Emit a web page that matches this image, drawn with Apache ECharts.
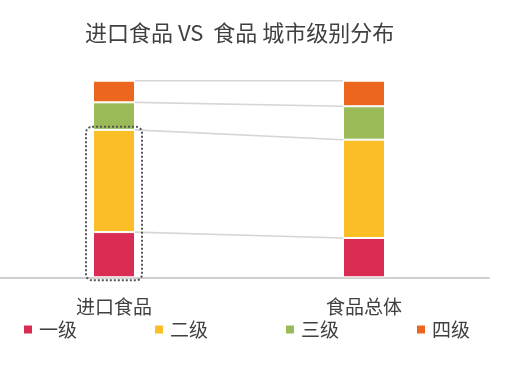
<!DOCTYPE html>
<html>
<head>
<meta charset="utf-8">
<script src="https://cdn.jsdelivr.net/npm/echarts@6/dist/echarts.min.js"></script>
<style>
html,body{margin:0;padding:0;background:#fff;}
#main{width:506px;height:373px;}
</style>
</head>
<body>
<div id="main"></div>
<script>
var titleText = '进口食品 VS  食品 城市级别分布';
var categories = ['进口食品', '食品总体'];
var seriesNames = ['一级', '二级', '三级', '四级'];
var tier1 = [23, 20];
var tier2 = [52, 50];
var tier3 = [14, 17];
var tier4 = [11, 13];
var colors = ['#DA2B52', '#FBBE27', '#9BBB59', '#EC6620'];

var allSeries = [tier1, tier2, tier3, tier4];
function cumTop(catIdx, level) {
  var s = 0;
  for (var i = 0; i <= level; i++) s += allSeries[i][catIdx];
  return s;
}
var connectData = [];
for (var l = 0; l < allSeries.length; l++) {
  connectData.push([0, cumTop(0, l), cumTop(1, l)]);
}
var highlightData = [[0, 0, cumTop(0, 1)]];

var BAR_W = 42;
var half = BAR_W / 2;

var chart = echarts.init(document.getElementById('main'));
var series = seriesNames.map(function (n, i) {
  return {
    name: n,
    type: 'bar',
    stack: 'total',
    barWidth: BAR_W,
    data: allSeries[i],
    itemStyle: { color: colors[i], borderColor: '#fff', borderWidth: 1 },
    emphasis: { disabled: true }
  };
});
series.push({
  type: 'custom',
  name: 'connect',
  silent: true,
  z: 1,
  encode: { x: 0, y: 1 },
  data: connectData,
  renderItem: function (params, api) {
    var p1 = api.coord([0, api.value(1)]);
    var p2 = api.coord([1, api.value(2)]);
    return {
      type: 'line',
      shape: { x1: p1[0] + half, y1: p1[1], x2: p2[0] - half, y2: p2[1] },
      style: { stroke: '#d6d6d6', lineWidth: 1.6 }
    };
  }
});
series.push({
  type: 'custom',
  name: 'highlight',
  silent: true,
  z: 5,
  encode: { x: 0, y: 1 },
  data: highlightData,
  renderItem: function (params, api) {
    var pb = api.coord([api.value(0), api.value(1)]);
    var pt = api.coord([api.value(0), api.value(2)]);
    var x = pb[0] - half - 7, y = pt[1] - 3;
    return {
      type: 'rect',
      shape: { x: x, y: y, width: BAR_W + 14, height: pb[1] - pt[1] + 6, r: 6 },
      style: { fill: null, stroke: '#555', lineWidth: 2, lineDash: [2, 2] }
    };
  }
});

chart.setOption({
  animation: false,
  title: {
    text: titleText,
    left: 85,
    top: 22,
    padding: 0,
    textStyle: { fontFamily: 'Noto Sans CJK SC', fontSize: 22, fontWeight: 'normal', color: '#404040' }
  },
  legend: {
    data: seriesNames,
    left: 22,
    top: 320,
    padding: 0,
    itemWidth: 10,
    itemHeight: 10,
    itemGap: 76,
    icon: 'rect',
    selectedMode: false,
    textStyle: { fontFamily: 'Noto Sans CJK SC', fontSize: 19, color: '#404040', padding: [0, 0, 0, 1] }
  },
  grid: { left: -11, right: 17, top: 80.7, bottom: 95.7, containLabel: false, outerBoundsMode: 'none' },
  xAxis: {
    type: 'category',
    data: categories,
    axisLine: { lineStyle: { color: '#d0d0d0', width: 2 } },
    axisTick: { show: false },
    axisLabel: { margin: 20, fontFamily: 'Noto Sans CJK SC', fontSize: 19, color: '#404040' }
  },
  yAxis: {
    type: 'value',
    min: 0,
    max: 100,
    show: false,
    splitLine: { show: false }
  },
  series: series
});
</script>
</body>
</html>
